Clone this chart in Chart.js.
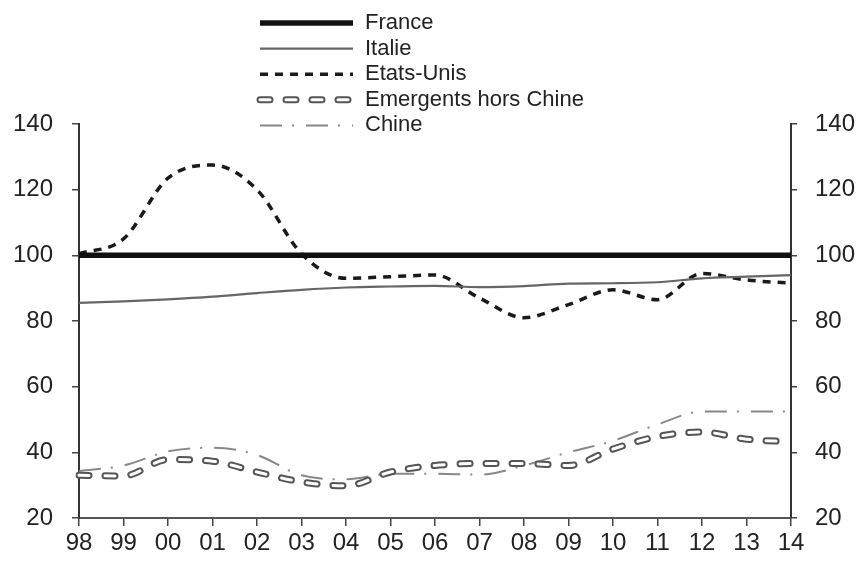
<!DOCTYPE html>
<html>
<head>
<meta charset="utf-8">
<script src="https://cdn.jsdelivr.net/npm/chart.js@4.4.0/dist/chart.umd.min.js"></script>
<style>
html,body{margin:0;padding:0;background:#fff;}
canvas{display:block;}
</style>
</head>
<body>
<canvas id="c" width="863" height="566"></canvas>
<script>
// ---- data ----
const years = ['98','99','00','01','02','03','04','05','06','07','08','09','10','11','12','13','14'];
const france = [100,100,100,100,100,100,100,100,100,100,100,100,100,100,100,100,100];
const italie = [85.5,86,86.6,87.4,88.5,89.5,90.2,90.5,90.7,90.3,90.6,91.4,91.5,91.8,93,93.5,94];
const etatsUnis = [100.5,105,123.5,127.5,120,100.5,93,93.5,94,87,81,85,89.5,86.5,94.5,92.5,91.5];
const emergents = [33,32.8,37.8,37.3,34,31,29.8,34,36,36.6,36.6,36,41,44.8,46.2,44,43.2];
const chine = [34.3,36,40.3,41.4,39.2,33,31.8,33.5,33.5,33.2,36,40,43.5,48.5,52.4,52.4,52.4];
const yTicks = [20,40,60,80,100,120,140];
const seriesNames = ['France','Italie','Etats-Unis','Emergents hors Chine','Chine'];

const FONT = '"Liberation Sans", Arial, sans-serif';

// draws a white inner stroke over a dataset's own path for the hollow-dash look
const hollowDash = {
  id: 'hollowDash',
  afterDatasetDraw(chart, args) {
    const ds = chart.data.datasets[args.index];
    if (!ds.hollow) return;
    const ctx = chart.ctx;
    const a = chart.chartArea;
    ctx.save();
    ctx.beginPath();
    ctx.rect(a.left - 5, a.top - 5, a.right - a.left + 10, a.bottom - a.top + 10);
    ctx.clip();
    ctx.beginPath();
    args.meta.dataset.path(ctx);
    ctx.lineCap = 'round';
    ctx.lineJoin = 'round';
    ctx.setLineDash(ds.borderDash);
    ctx.lineDashOffset = 0;
    ctx.strokeStyle = '#fff';
    ctx.lineWidth = ds.hollow;
    ctx.stroke();
    ctx.restore();
  }
};

const stackedLegend = {
  id: 'stackedLegend',
  afterDraw(chart, args, o) {
    const ctx = chart.ctx;
    chart.data.datasets.forEach((ds, i) => {
      const y = o.top + i * o.rowH;
      ctx.save();
      ctx.strokeStyle = ds.borderColor;
      ctx.lineWidth = ds.borderWidth;
      ctx.setLineDash(ds.borderDash || []);
      ctx.lineCap = ds.borderCapStyle || 'butt';
      ctx.beginPath();
      ctx.moveTo(o.x0, y);
      ctx.lineTo(o.x1, y);
      ctx.stroke();
      if (ds.hollow) {
        ctx.strokeStyle = '#fff';
        ctx.lineWidth = ds.hollow;
        ctx.beginPath();
        ctx.moveTo(o.x0, y);
        ctx.lineTo(o.x1, y);
        ctx.stroke();
      }
      ctx.setLineDash([]);
      ctx.fillStyle = o.color;
      ctx.font = o.font;
      ctx.textBaseline = 'middle';
      ctx.textAlign = 'left';
      ctx.fillText(ds.label, o.textX, y);
      ctx.restore();
    });
  }
};

new Chart(document.getElementById('c'), {
  type: 'line',
  data: {
    labels: years,
    datasets: [
      { label: seriesNames[0], data: france, borderColor: '#111', borderWidth: 5.5 },
      { label: seriesNames[1], data: italie, borderColor: '#666', borderWidth: 2.2 },
      { label: seriesNames[2], data: etatsUnis, borderColor: '#1a1a1a', borderWidth: 3.5, borderDash: [8, 7] },
      { label: seriesNames[3], data: emergents, borderColor: '#555', borderWidth: 7, borderDash: [10, 16], borderCapStyle: 'round', hollow: 3 },
      { label: seriesNames[4], data: chine, borderColor: '#888', borderWidth: 2, borderDash: [22, 10, 2, 12] }
    ]
  },
  options: {
    responsive: false,
    animation: false,
    devicePixelRatio: 1,
    layout: { padding: { top: 124, left: 0, right: 0, bottom: 0 } },
    elements: {
      point: { radius: 0, hoverRadius: 0 },
      line: { cubicInterpolationMode: 'monotone' }
    },
    plugins: {
      legend: { display: false },
      tooltip: { enabled: false },
      stackedLegend: { x0: 260, x1: 353, textX: 365, top: 23, rowH: 25.6, font: '22px ' + FONT, color: '#222' }
    },
    scales: {
      x: {
        type: 'category',
        offset: false,
        grid: { display: true, drawOnChartArea: false, drawTicks: true, tickLength: 8, color: '#444', lineWidth: 1.5, offset: false },
        border: { display: true, color: '#555', width: 2 },
        ticks: { autoSkip: false, maxRotation: 0, minRotation: 0, padding: 3, color: '#222', font: { family: FONT, size: 24 } },
        afterFit(s) { s.height = 48; }
      },
      y: {
        position: 'left',
        min: yTicks[0],
        max: yTicks[yTicks.length - 1],
        ticks: { stepSize: yTicks[1] - yTicks[0], padding: 19, color: '#222', font: { family: FONT, size: 24 } },
        grid: { display: true, drawOnChartArea: false, drawTicks: true, tickLength: 7, color: '#444', lineWidth: 1.5 },
        border: { display: true, color: '#333', width: 2 },
        afterFit(s) { s.width = 79; }
      },
      y2: {
        position: 'right',
        min: yTicks[0],
        max: yTicks[yTicks.length - 1],
        ticks: { stepSize: yTicks[1] - yTicks[0], padding: 18, color: '#222', font: { family: FONT, size: 24 } },
        grid: { display: true, drawOnChartArea: false, drawTicks: true, tickLength: 6, color: '#444', lineWidth: 1.5 },
        border: { display: true, color: '#333', width: 2 },
        afterFit(s) { s.width = 72; }
      }
    }
  },
  plugins: [hollowDash, stackedLegend]
});
</script>
</body>
</html>
